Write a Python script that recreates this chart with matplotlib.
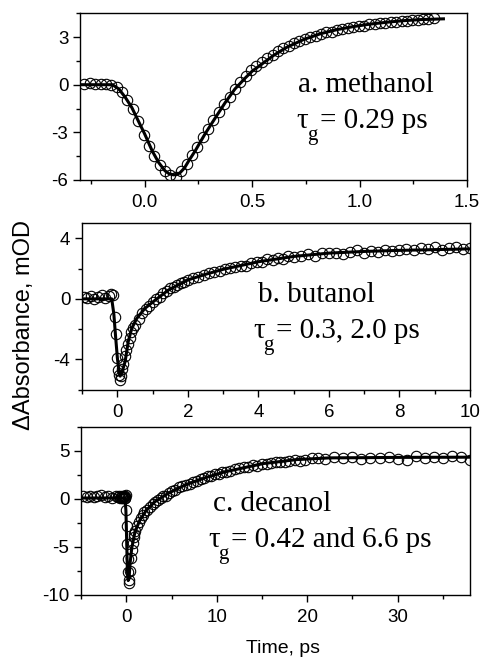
import matplotlib
matplotlib.use("Agg")
import matplotlib.pyplot as plt
from matplotlib.ticker import MultipleLocator, FormatStrFormatter

plt.rcParams['font.family'] = ['Liberation Sans', 'DejaVu Sans']

# ---- a. methanol ----
a_x = [-0.28, -0.255, -0.23, -0.205, -0.18, -0.155, -0.13, -0.105, -0.08, -0.055,
       -0.03, -0.005, 0.02, 0.045, 0.07, 0.095, 0.12, 0.145, 0.17, 0.195,
       0.22, 0.245, 0.27, 0.295, 0.32, 0.345, 0.37, 0.395, 0.42, 0.445,
       0.47, 0.495, 0.52, 0.545, 0.57, 0.595, 0.62, 0.645, 0.67, 0.695,
       0.72, 0.745, 0.77, 0.795, 0.82, 0.845, 0.87, 0.895, 0.92, 0.945,
       0.97, 0.995, 1.02, 1.045, 1.07, 1.095, 1.12, 1.145, 1.17, 1.195,
       1.22, 1.245, 1.27, 1.295, 1.32, 1.345]
a_y = [0.05, 0.08, 0.02, 0.06, 0.03, 0.0, -0.12, -0.45, -0.95, -1.55,
       -2.3, -3.15, -3.85, -4.5, -5.05, -5.45, -5.72, -5.8, -5.45, -5.0,
       -4.45, -3.9, -3.3, -2.8, -2.25, -1.75, -1.2, -0.75, -0.3, 0.15,
       0.55, 0.9, 1.2, 1.45, 1.7, 1.9, 2.1, 2.3, 2.45, 2.6,
       2.75, 2.9, 3.0, 3.1, 3.2, 3.3, 3.35, 3.45, 3.5, 3.6,
       3.62, 3.7, 3.72, 3.8, 3.82, 3.88, 3.9, 3.95, 3.97, 4.02,
       4.03, 4.08, 4.1, 4.12, 4.15, 4.18]
a_fit_x = [-0.30, -0.15, -0.12, -0.09, -0.06, -0.03, 0.0, 0.035, 0.065, 0.095,
           0.115, 0.135, 0.15, 0.165, 0.185, 0.205, 0.235, 0.28, 0.33, 0.375,
           0.42, 0.47, 0.5, 0.53, 0.56, 0.6, 0.66, 0.74, 0.82, 0.895,
           0.97, 1.05, 1.13, 1.2, 1.28, 1.39]
a_fit_y = [0.0, 0.0, -0.27, -0.8, -1.43, -2.27, -3.1, -4.17, -4.9, -5.43,
           -5.62, -5.68, -5.66, -5.54, -5.25, -4.8, -4.17, -3.12, -2.06, -1.12,
           -0.27, 0.45, 0.85, 1.15, 1.45, 1.85, 2.35, 2.85, 3.22, 3.47,
           3.66, 3.82, 3.94, 4.03, 4.1, 4.15]

# ---- b. butanol ----
b_x = [-0.95, -0.85, -0.75, -0.65, -0.55, -0.45, -0.35, -0.25, -0.18, -0.12,
       -0.08, -0.05, -0.02, 0.01, 0.04, 0.07, 0.1, 0.13, 0.17, 0.21,
       0.25, 0.3, 0.35, 0.4, 0.45, 0.5, 0.6, 0.7, 0.8, 0.9,
       1.0, 1.1, 1.2, 1.3, 1.4, 1.5, 1.6, 1.7, 1.8, 1.9,
       2.0, 2.15, 2.3, 2.45, 2.6, 2.75, 2.9, 3.05, 3.2, 3.35,
       3.5, 3.65, 3.8, 3.95, 4.1, 4.25, 4.4, 4.55, 4.7, 4.85,
       5.0, 5.2, 5.4, 5.6, 5.8, 6.0, 6.2, 6.4, 6.6, 6.8,
       7.0, 7.2, 7.4, 7.6, 7.8, 8.0, 8.2, 8.4, 8.6, 8.8,
       9.0, 9.2, 9.4, 9.6, 9.8, 10.0]
b_y = [0.15, 0.05, 0.2, 0.0, 0.1, 0.25, 0.05, 0.2, 0.3, 0.25,
       -1.2, -2.3, -3.9, -4.7, -5.0, -5.35, -5.1, -4.6, -4.3, -3.8,
       -3.4, -3.0, -2.6, -2.2, -1.9, -1.7, -1.3, -0.95, -0.7, -0.45,
       -0.2, 0.0, 0.15, 0.4, 0.5, 0.7, 0.8, 0.9, 1.05, 1.1,
       1.25, 1.35, 1.45, 1.55, 1.7, 1.75, 1.85, 1.95, 2.05, 2.1,
       2.2, 2.15, 2.35, 2.4, 2.45, 2.6, 2.55, 2.7, 2.65, 2.8,
       2.75, 2.85, 2.95, 2.85, 3.0, 3.0, 3.05, 2.95, 3.1, 3.2,
       3.05, 3.15, 3.1, 3.25, 3.15, 3.2, 3.3, 3.2, 3.35, 3.3,
       3.4, 3.25, 3.35, 3.45, 3.3, 3.35]
b_fit_x = [-1.0, -0.16, -0.1, -0.05, 0.0, 0.05, 0.08, 0.15, 0.22, 0.31,
           0.41, 0.55, 0.78, 1.07, 1.44, 2.0, 2.5, 3.0, 3.5, 4.0,
           5.0, 6.0, 7.0, 8.0, 9.0, 10.0]
b_fit_y = [0.0, 0.0, -1.0, -2.5, -3.9, -4.9, -5.1, -4.7, -4.13, -2.8,
           -1.94, -1.29, -0.63, -0.09, 0.57, 1.25, 1.62, 1.95, 2.2, 2.45,
           2.8, 3.02, 3.13, 3.2, 3.25, 3.3]

# ---- c. decanol ----
c_x = [-4.8, -4.4, -4.0, -3.6, -3.2, -2.8, -2.4, -2.0, -1.6, -1.2,
       -0.9, -0.8, -0.7, -0.6, -0.5, -0.45, -0.4, -0.35, -0.3, -0.25,
       -0.2, -0.15, -0.1, -0.05, 0.0, 0.05, 0.1, 0.15, 0.2, 0.25,
       0.3, 0.4, 0.5, 0.6, 0.7, 0.8, 0.9, 1.0, 1.2, 1.4,
       1.6, 1.8, 2.0, 2.3, 2.6, 2.9, 3.2, 3.5, 3.8, 4.1,
       4.4, 4.7, 5.0, 5.4, 5.8, 6.2, 6.6, 7.0, 7.4, 7.8,
       8.2, 8.6, 9.0, 9.4, 9.8, 10.2, 10.6, 11.0, 11.5, 12.0,
       12.5, 13.0, 13.5, 14.0, 14.5, 15.0, 15.5, 16.0, 16.5, 17.0,
       17.5, 18.0, 18.6, 19.2, 19.8, 20.5, 21.2, 22.0, 23.0, 24.0,
       25.0, 26.0, 27.0, 28.0, 29.0, 30.0, 31.0, 32.0, 33.0, 34.0,
       35.0, 36.0, 37.0, 38.0]
c_y = [0.3, 0.25, 0.35, 0.2, 0.3, 0.4, 0.2, 0.3, 0.15, 0.3,
       0.2, 0.3, 0.1, 0.25, 0.15, 0.3, 0.2, 0.1, 0.25, 0.35,
       0.15, 0.3, 0.1, 0.4, -1.2, -2.8, -4.7, -6.3, -7.6, -8.4,
       -8.8, -7.5, -6.2, -5.3, -4.6, -4.0, -3.6, -3.3, -2.8, -2.4,
       -2.0, -1.7, -1.4, -1.1, -0.8, -0.5, -0.3, -0.15, 0.1, 0.3,
       0.35, 0.6, 0.8, 0.9, 1.2, 1.3, 1.5, 1.6, 1.8, 1.9,
       2.1, 2.15, 2.35, 2.4, 2.55, 2.6, 2.8, 2.85, 2.95, 3.1,
       3.2, 3.3, 3.35, 3.5, 3.45, 3.6, 3.65, 3.7, 3.8, 3.85,
       3.9, 3.95, 4.05, 3.95, 4.1, 4.25, 4.3, 4.15, 4.35, 4.3,
       4.4, 4.2, 4.3, 4.25, 4.35, 4.2, 4.05, 4.5, 4.3, 4.35,
       4.25, 4.5, 4.4, 4.1]
c_fit_x = [-5.0, -0.15, -0.05, 0.0, 0.05, 0.1, 0.15, 0.2, 0.3, 0.4,
           0.6, 0.96, 1.5, 2.24, 3.17, 4.64, 6.48, 8.69, 10.9, 12.36,
           15.16, 18.84, 22.5, 26.2, 30.0, 38.0]
c_fit_y = [0.1, 0.1, -1.2, -3.0, -5.0, -7.0, -8.0, -8.5, -8.3, -6.8,
           -5.1, -3.4, -2.2, -1.14, -0.28, 0.59, 1.45, 2.2, 2.83, 3.12,
           3.69, 4.1, 4.28, 4.3, 4.33, 4.35]

names = ["a. methanol", "b. butanol", "c. decanol"]
tau_texts = ["= 0.29 ps", "= 0.3, 2.0 ps", "= 0.42 and 6.6 ps"]

panels = [
    dict(x=a_x, y=a_y, fx=a_fit_x, fy=a_fit_y, xlim=(-0.3, 1.5), ylim=(-6, 4.5),
         xmaj=0.5, xmin=0.25, ymaj=3, ymin=1.5, xfmt='%.1f',
         pos=[0.166, 0.729, 0.801, 0.251],
         tx1=0.563, tx2=0.56, ty1=0.527, ty2=0.311),
    dict(x=b_x, y=b_y, fx=b_fit_x, fy=b_fit_y, xlim=(-1, 10), ylim=(-6, 5),
         xmaj=2, xmin=1, ymaj=4, ymin=2, xfmt='%d',
         pos=[0.170, 0.413, 0.803, 0.251],
         tx1=0.454, tx2=0.441, ty1=0.527, ty2=0.311),
    dict(x=c_x, y=c_y, fx=c_fit_x, fy=c_fit_y, xlim=(-5, 38), ylim=(-10, 7.5),
         xmaj=10, xmin=5, ymaj=5, ymin=2.5, xfmt='%d',
         pos=[0.168, 0.104, 0.805, 0.253],
         tx1=0.339, tx2=0.326, ty1=0.50, ty2=0.286),
]

serif = 'Liberation Serif'
fig = plt.figure(figsize=(4.83, 6.64), dpi=100)

for i, p in enumerate(panels):
    ax = fig.add_axes(p['pos'])
    ax.plot(p['x'], p['y'], 'o', mfc='none', mec='black', ms=7.5, mew=0.8)
    ax.plot(p['fx'], p['fy'], '-', color='black', lw=2.2)
    ax.set_xlim(*p['xlim'])
    ax.set_ylim(*p['ylim'])
    ax.xaxis.set_major_locator(MultipleLocator(p['xmaj']))
    ax.xaxis.set_minor_locator(MultipleLocator(p['xmin']))
    ax.yaxis.set_major_locator(MultipleLocator(p['ymaj']))
    ax.yaxis.set_minor_locator(MultipleLocator(p['ymin']))
    ax.xaxis.set_major_formatter(FormatStrFormatter(p['xfmt']))
    ax.yaxis.set_major_formatter(FormatStrFormatter('%g'))
    ax.tick_params(which='both', direction='out', top=False, right=False,
                   labelsize=13.5, width=1)
    ax.tick_params(which='major', length=5)
    ax.tick_params(which='minor', length=3)
    ax.tick_params(axis='x', pad=5)
    for s in ax.spines.values():
        s.set_linewidth(1)

    ax.text(p['tx1'], p['ty1'], names[i], transform=ax.transAxes, ha='left',
            va='baseline', family=serif, fontsize=21)
    # tau with a lowered subscript g, then the values
    tau = ax.text(p['tx2'], p['ty2'], "τ", transform=ax.transAxes, ha='left',
                  va='baseline', family=serif, fontsize=21)
    sub = ax.annotate("g", xy=(1, 0), xycoords=tau, xytext=(-1, -4.5),
                      textcoords='offset points', ha='left', va='baseline',
                      family=serif, fontsize=15)
    ax.annotate(tau_texts[i], xy=(1, 0), xycoords=(sub, tau), xytext=(1.5, 0),
                textcoords='offset points', ha='left', va='bottom',
                family=serif, fontsize=21)

fig.text(0.05, 0.51, "ΔAbsorbance, mOD", rotation=90, va='center', ha='center', fontsize=17)
fig.text(0.586, 0.024, "Time, ps", ha='center', va='center', fontsize=14)

fig.savefig("out.png", dpi=100)
